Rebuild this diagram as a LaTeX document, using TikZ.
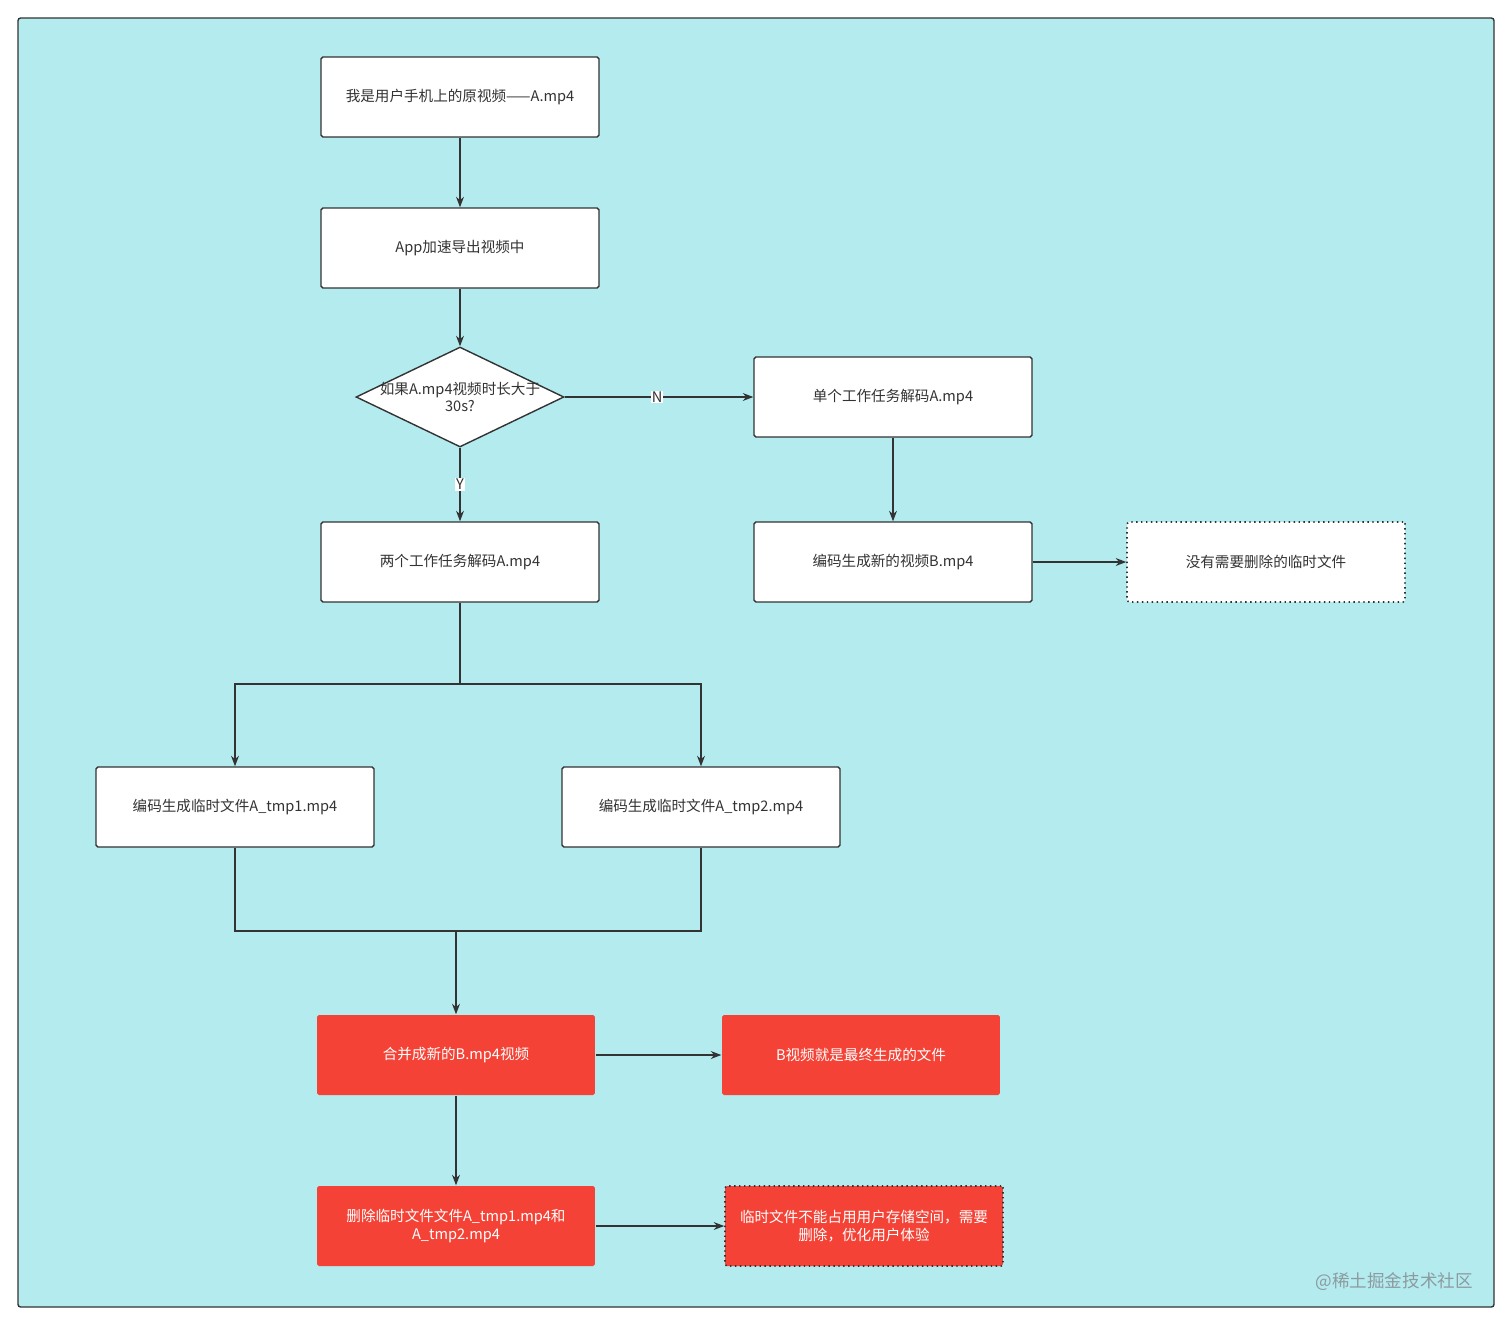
\documentclass[tikz,border=0pt]{standalone}
\usepackage{fontspec}
\setmainfont{Noto Sans CJK SC}
\usepackage{tikz}
\usetikzlibrary{arrows.meta,shapes.geometric,math}
\definecolor{FlowBg}{RGB}{179,235,239}
\definecolor{FlowRed}{RGB}{244,67,54}
\definecolor{FlowLine}{RGB}{51,51,51}
\definecolor{FlowMark}{RGB}{140,155,160}
\tikzset{%
  flow text/.style={text=FlowLine, align=center, font=\fontsize{8.3pt}{10pt}\selectfont},
  flow box/.style={flow text, draw=FlowLine, line width=0.8pt, fill=white, rounded corners=1pt,
    minimum width=5.56cm, minimum height=1.6cm, inner sep=2pt},
  red box/.style={flow box, draw=none, fill=FlowRed, text=white},
  note box/.style={flow box, dotted, line width=0.9pt},
  choice/.style={diamond, draw=FlowLine, line width=0.8pt, fill=white, aspect=2.08,
    minimum width=4.16cm, minimum height=2cm, inner sep=0pt},
  link/.style={draw=FlowLine, line width=0.7pt},
  flow arrow/.style={link, -{Stealth[length=6pt,width=4.5pt]}},
  tag/.style={flow text, fill=white, inner sep=0.6pt}
}

\begin{document}
\begin{tikzpicture}[x=0.02cm, y=-0.02cm]
    \useasboundingbox (0,0) rectangle (1512,1326);
    % background panel
    \fill[white] (0,0) rectangle (1512,1326);
    \draw[fill=FlowBg, draw=FlowLine, line width=0.8pt, rounded corners=1.5pt] (18,18) rectangle (1494,1307);
    % main column
    \node[flow box] (src) at (460,97) {我是用户手机上的原视频——A.mp4};
    \node[flow box] (export) at (460,248) {App加速导出视频中};
    \node[choice] (check) at (460,397) {};
    \node[flow text, inner sep=0pt] (check text) at (check.center) {如果A.mp4视频时长大于\\30s?};
    \node[flow box] (single) at (893,397) {单个工作任务解码A.mp4};
    \node[flow box] (double) at (460,562) {两个工作任务解码A.mp4};
    \node[flow box] (encodeB) at (893,562) {编码生成新的视频B.mp4};
    \node[note box] (nodel) at (1266,562) {没有需要删除的临时文件};
    % temp files
    \node[flow box] (tmpA) at (235,807) {编码生成临时文件A\_tmp1.mp4};
    \node[flow box] (tmpB) at (701,807) {编码生成临时文件A\_tmp2.mp4};
    % result (red)
    \node[red box] (merge) at (456,1055) {合并成新的B.mp4视频};
    \node[red box] (final) at (861,1055) {B视频就是最终生成的文件};
    \node[red box] (remove) at (456,1226) {删除临时文件文件A\_tmp1.mp4和\\A\_tmp2.mp4};
    \node[red box, draw=FlowLine, dotted, line width=0.9pt] (reason) at (864,1226) {临时文件不能占用用户存储空间，需要\\删除，优化用户体验};
    % split and join points
    \coordinate (split) at (460,684);
    \coordinate (join) at (456,931);
    % connectors
    \draw[flow arrow] (src) -- (export);
    \draw[flow arrow] (export) -- (check.north);
    \draw[flow arrow] (check.east) -- node[tag, pos=0.49] {N} (single.west);
    \draw[flow arrow] (check.south) -- node[tag, pos=0.5] {Y} (double.north);
    \draw[flow arrow] (single) -- (encodeB);
    \draw[flow arrow] (encodeB) -- (nodel);
    \draw[link] (double.south) -- (split);
    \draw[flow arrow] (split) -| (tmpA.north);
    \draw[flow arrow] (split) -| (tmpB.north);
    \draw[link] (tmpA.south) |- (join);
    \draw[link] (tmpB.south) |- (join);
    \draw[flow arrow] (join) -- (merge.north);
    \draw[flow arrow] (merge) -- (final);
    \draw[flow arrow] (merge) -- (remove);
    \draw[flow arrow] (remove) -- (reason);
    % watermark
    \node[text=FlowMark, font=\fontsize{10pt}{12pt}\selectfont, anchor=east] (mark) at (1479,1282) {@稀土掘金技术社区};
\end{tikzpicture}
\end{document}
